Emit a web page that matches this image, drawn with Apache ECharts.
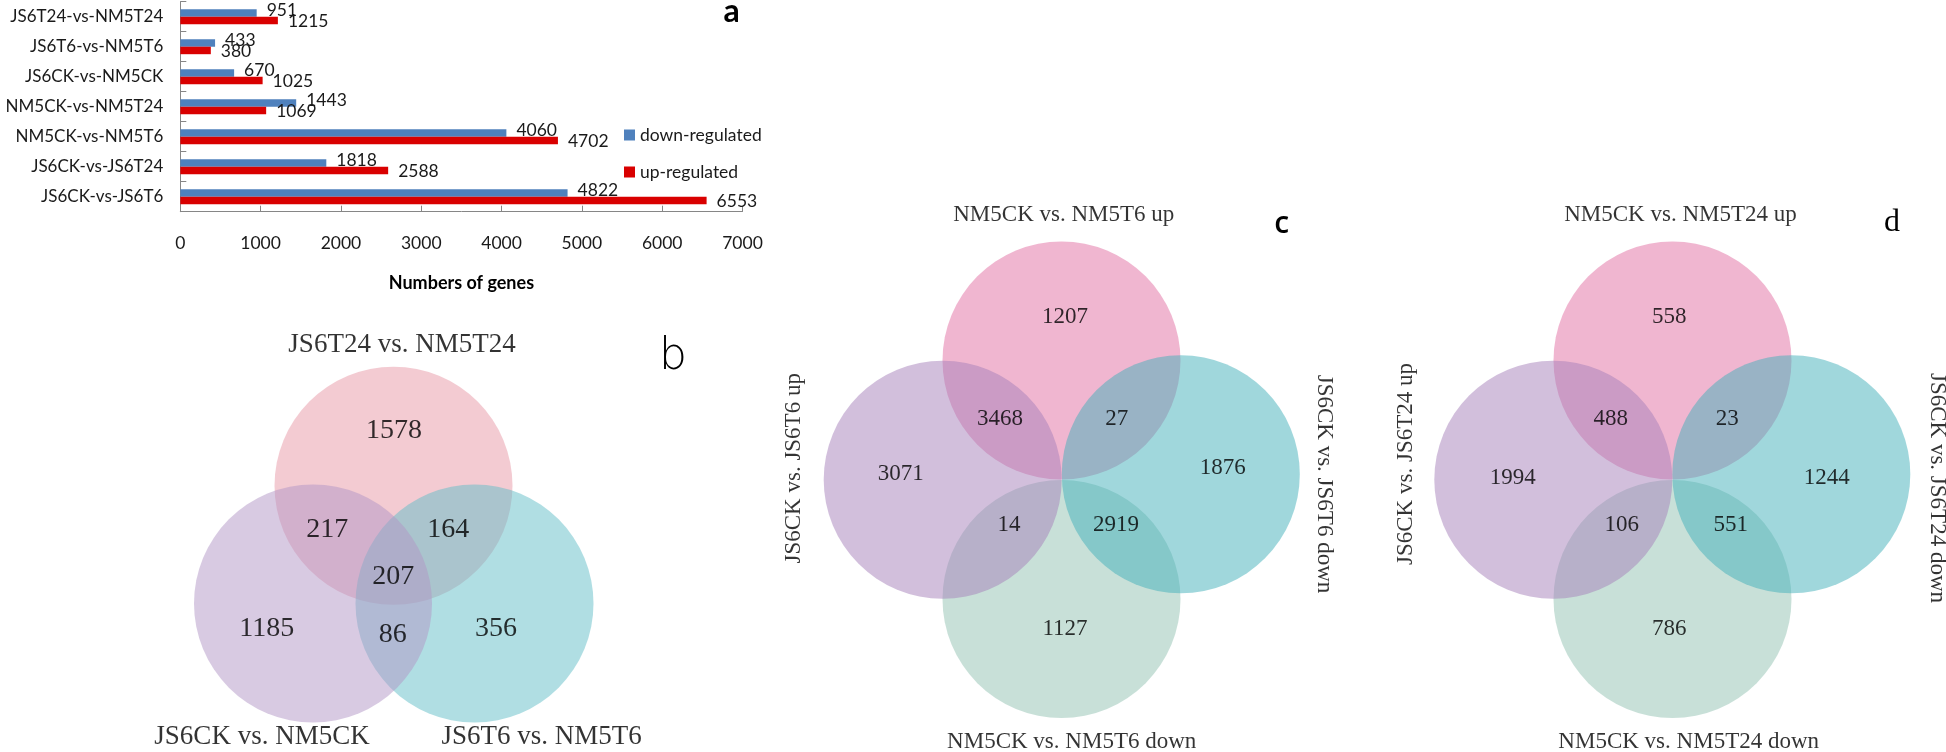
<!DOCTYPE html>
<html><head><meta charset="utf-8">
<script src="https://cdn.jsdelivr.net/npm/echarts@6/dist/echarts.min.js"></script>
<style>html,body{margin:0;padding:0;background:#fff}#chart{width:1946px;height:752px}</style>
</head><body><div id="chart"></div>
<script>
// ---------------- DATA ----------------
const barCategories = ['JS6T24-vs-NM5T24', 'JS6T6-vs-NM5T6', 'JS6CK-vs-NM5CK', 'NM5CK-vs-NM5T24', 'NM5CK-vs-NM5T6', 'JS6CK-vs-JS6T24', 'JS6CK-vs-JS6T6'];
const downRegulated = [951, 433, 670, 1443, 4060, 1818, 4822];
const upRegulated = [1215, 380, 1025, 1069, 4702, 2588, 6553];
const barSeriesNames = ['down-regulated', 'up-regulated'];
const xAxisName = 'Numbers of genes';
const xAxisMax = 7000;
const xAxisStep = 1000;

const vennBSets = ['JS6T24 vs. NM5T24', 'JS6CK vs. NM5CK', 'JS6T6 vs. NM5T6'];
const vennBCounts = [1578, 217, 164, 207, 1185, 86, 356];
const vennCSets = ['NM5CK vs. NM5T6 up', 'JS6CK vs. JS6T6 up', 'JS6CK vs. JS6T6 down', 'NM5CK vs. NM5T6 down'];
const vennCCounts = [1207, 3468, 27, 3071, 1876, 14, 2919, 1127];
const vennDSets = ['NM5CK vs. NM5T24 up', 'JS6CK vs. JS6T24 up', 'JS6CK vs. JS6T24 down', 'NM5CK vs. NM5T24 down'];
const vennDCounts = [558, 488, 23, 1994, 1244, 106, 551, 786];
const panelLetters = ['a', 'b', 'c', 'd'];

// ---------------- LAYOUT (geometry & style, not data) ----------------
const C3 = ['rgb(231,151,165)', 'rgb(97,189,199)', 'rgb(177,149,197)'];
const C4 = ['rgb(225,109,161)', 'rgb(145,193,177)', 'rgb(165,127,185)', 'rgb(65,175,185)'];
const LAYOUT = {
  b: {
    r: 119, colors: C3,
    circles: [[393.5, 485.7], [474.5, 603.5], [313, 603.5]],
    countPos: [[394, 431], [327.3, 530], [448.3, 530], [393.3, 576.7], [266.7, 628.3], [392.7, 635], [496, 628.3]],
    setPos: [[402, 345, 0], [262, 737, 0], [541.7, 737, 0]],
    countFont: 28, setFont: 27
  },
  c: {
    r: 119, colors: C4,
    circles: [[1061.5, 360.5], [1061.5, 599], [942.7, 479.7], [1180.8, 474.2]],
    countPos: [[1065, 316.7], [1000, 419.3], [1116.7, 419.3], [900.7, 474], [1222.7, 468.3], [1009, 525], [1116, 525], [1065, 629.3]],
    setPos: [[1063.8, 215, 0], [794, 468.3, 90], [1324, 484, -90], [1071.7, 741.7, 0]],
    countFont: 23, setFont: 23
  },
  d: {
    r: 119, colors: C4,
    circles: [[1672.5, 360.5], [1672.5, 599], [1553.3, 479.7], [1791.3, 474.2]],
    countPos: [[1669.3, 316.7], [1610.7, 419.3], [1727.3, 419.3], [1512.7, 478.3], [1826.7, 478.3], [1621.7, 525], [1730.7, 525], [1669.3, 629.3]],
    setPos: [[1680.5, 215, 0], [1406, 464, 90], [1937, 488, -90], [1688.7, 741.7, 0]],
    countFont: 23, setFont: 23
  }
};
const letterStyle = [
  {x: 731.7, y: 12, font: 'bold 32px Lato'},
  {x: 673, y: 358, font: '300 44px "DejaVu Sans", "Liberation Sans"'},
  {x: 1281.7, y: 224, font: '600 30px "Open Sans"'},
  {x: 1892, y: 222.5, font: '32px "Liberation Serif"'}
];

const SANS = 'Lato';
const SERIF = '"Liberation Serif", "Times New Roman", serif';
const TXT = '#1a1a1a';
const AXIS = '#868686';

function vennSeries(L, sets, counts) {
  return [
    {
      type: 'scatter', xAxisIndex: 1, yAxisIndex: 1, silent: true, clip: false, z: 1,
      symbol: 'circle', symbolSize: 2 * L.r,
      data: L.circles.map((p, i) => ({value: p, itemStyle: {color: L.colors[i], opacity: 0.5}}))
    },
    {
      type: 'scatter', xAxisIndex: 1, yAxisIndex: 1, silent: true, clip: false, z: 3,
      symbolSize: 1, itemStyle: {color: 'rgba(0,0,0,0)'},
      label: {show: true, position: 'inside', formatter: p => String(p.value[2]),
        fontFamily: SERIF, fontSize: L.countFont, color: '#000'},
      data: L.countPos.map((p, i) => ({value: [p[0], p[1], counts[i]]}))
    },
    {
      type: 'scatter', xAxisIndex: 1, yAxisIndex: 1, silent: true, clip: false, z: 3,
      symbolSize: 1, itemStyle: {color: 'rgba(0,0,0,0)'},
      label: {show: true, position: 'inside', formatter: '{b}',
        fontFamily: SERIF, fontSize: L.setFont, color: '#000'},
      data: L.setPos.map((p, i) => ({value: [p[0], p[1]], name: sets[i], label: {rotate: p[2]}}))
    }
  ];
}

const chart = echarts.init(document.getElementById('chart'), null, {renderer: 'canvas'});
const option = {
  animation: false,
  backgroundColor: '#fff',
  grid: [
    {left: 180.3, top: 1.7, width: 562.2, height: 210},
    {left: 0, top: 0, width: 1946, height: 752}
  ],
  legend: {
    orient: 'vertical', left: 619, top: 120, itemWidth: 11, itemHeight: 11, itemGap: 17,
    icon: 'rect', data: barSeriesNames, selectedMode: false,
    textStyle: {fontFamily: SANS, fontSize: 17.5, color: TXT, lineHeight: 20}
  },
  xAxis: [
    {
      type: 'value', gridIndex: 0, min: 0, max: xAxisMax, interval: xAxisStep,
      axisLine: {show: true, lineStyle: {color: AXIS}},
      axisTick: {show: true, inside: true, length: 6, lineStyle: {color: AXIS}},
      splitLine: {show: false},
      axisLabel: {margin: 23, fontFamily: SANS, fontSize: 17.5, color: TXT, formatter: v => String(v)},
      name: xAxisName, nameLocation: 'middle', nameGap: 62,
      nameTextStyle: {fontFamily: SANS, fontWeight: 'bold', fontSize: 18, color: '#000'}
    },
    {type: 'value', gridIndex: 1, min: 0, max: 1946, show: false}
  ],
  yAxis: [
    {
      type: 'category', gridIndex: 0, data: barCategories, inverse: true,
      axisLine: {show: true, lineStyle: {color: AXIS}},
      axisTick: {show: true, inside: true, length: 6, lineStyle: {color: AXIS}},
      axisLabel: {margin: 17, fontFamily: SANS, fontSize: 17, color: TXT}
    },
    {type: 'value', gridIndex: 1, min: 0, max: 752, inverse: true, show: false}
  ],
  graphic: panelLetters.map((t, i) => ({
    type: 'text', x: letterStyle[i].x, y: letterStyle[i].y, silent: true, z: 10,
    style: {text: t, font: letterStyle[i].font, fill: '#000', align: 'center', verticalAlign: 'middle'}
  })),
  series: [
    {
      name: barSeriesNames[0], type: 'bar', xAxisIndex: 0, yAxisIndex: 0, data: downRegulated,
      barGap: '0%', barCategoryGap: '50%', itemStyle: {color: '#4f81bd'},
      label: {show: true, position: 'right', distance: 10, offset: [0, -3],
        fontFamily: SANS, fontSize: 17.5, color: TXT}
    },
    {
      name: barSeriesNames[1], type: 'bar', xAxisIndex: 0, yAxisIndex: 0, data: upRegulated,
      barGap: '0%', barCategoryGap: '50%', itemStyle: {color: '#d90000'},
      label: {show: true, position: 'right', distance: 10, offset: [0, 1],
        fontFamily: SANS, fontSize: 17.5, color: TXT}
    },
    ...vennSeries(LAYOUT.b, vennBSets, vennBCounts),
    ...vennSeries(LAYOUT.c, vennCSets, vennCCounts),
    ...vennSeries(LAYOUT.d, vennDSets, vennDCounts)
  ]
};
chart.setOption(option);
</script>
</body></html>
